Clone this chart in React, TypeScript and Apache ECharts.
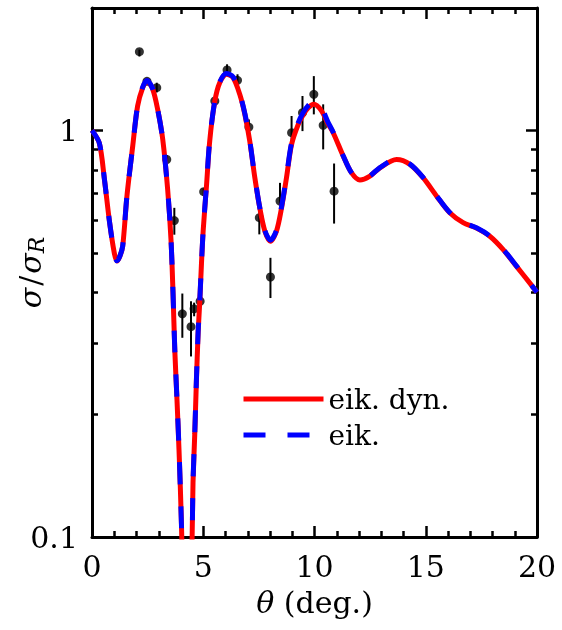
import React, { useEffect, useRef } from "react";
import * as echarts from "echarts";

// eikonal with dynamic polarization (red, solid)
const dynTheta = [0, 0.33, 0.56, 0.78, 1.0, 1.12, 1.25, 1.38, 1.57, 1.83, 2.05, 2.28, 2.47, 2.73, 2.95, 3.18, 3.4, 3.55, 3.64, 3.72, 3.82, 3.91, 4.02, 4.12, 4.25, 4.38, 4.5, 4.54, 4.62, 4.69, 4.77, 4.84, 4.92, 5.0, 5.14, 5.29, 5.52, 5.74, 6.04, 6.34, 6.64, 6.87, 7.09, 7.32, 7.54, 7.77, 8.02, 8.29, 8.52, 8.74, 8.97, 9.27, 9.5, 9.72, 9.97, 10.3, 10.6, 10.84, 11.29, 11.66, 12.04, 12.49, 12.94, 13.69, 14.29, 14.88, 15.49, 16.08, 16.68, 17.28, 17.88, 18.48, 19.08, 19.68, 20];
const dynValue = [1.0, 0.93, 0.757, 0.6, 0.5, 0.477, 0.49, 0.519, 0.689, 0.915, 1.148, 1.274, 1.323, 1.262, 1.127, 0.95, 0.716, 0.539, 0.4, 0.289, 0.217, 0.164, 0.108, 0.06, 0.02, 0.06, 0.1, 0.136, 0.18, 0.24, 0.318, 0.376, 0.47, 0.57, 0.723, 0.941, 1.18, 1.31, 1.374, 1.349, 1.227, 1.095, 0.941, 0.764, 0.645, 0.565, 0.534, 0.565, 0.645, 0.764, 0.924, 1.035, 1.095, 1.137, 1.159, 1.12, 1.04, 0.987, 0.865, 0.787, 0.755, 0.772, 0.809, 0.848, 0.825, 0.765, 0.689, 0.627, 0.593, 0.575, 0.549, 0.509, 0.463, 0.421, 0.4];

// eikonal (blue, dashed)
const eikTheta = [0, 0.33, 0.56, 0.78, 1.0, 1.12, 1.25, 1.38, 1.57, 1.83, 2.05, 2.28, 2.47, 2.73, 2.95, 3.18, 3.4, 3.55, 3.64, 3.72, 3.82, 3.91, 4.02, 4.12, 4.25, 4.38, 4.5, 4.54, 4.62, 4.69, 4.77, 4.84, 4.92, 5.0, 5.14, 5.29, 5.52, 5.74, 6.04, 6.34, 6.64, 6.87, 7.09, 7.32, 7.54, 7.77, 8.02, 8.29, 8.52, 8.74, 8.97, 9.27, 9.5, 9.72, 9.97, 10.3, 10.6, 10.84, 11.29, 11.66, 12.04, 12.49, 12.94, 13.69, 14.29, 14.88, 15.49, 16.08, 16.68, 17.28, 17.88, 18.48, 19.08, 19.68, 20];
const eikValue = [1.0, 0.93, 0.757, 0.6, 0.5, 0.478, 0.49, 0.52, 0.69, 0.915, 1.15, 1.278, 1.327, 1.265, 1.128, 0.95, 0.716, 0.54, 0.4, 0.29, 0.218, 0.165, 0.107, 0.06, 0.02, 0.06, 0.1, 0.137, 0.181, 0.241, 0.32, 0.378, 0.472, 0.572, 0.726, 0.945, 1.185, 1.315, 1.38, 1.354, 1.232, 1.1, 0.944, 0.766, 0.646, 0.567, 0.537, 0.568, 0.65, 0.77, 0.932, 1.045, 1.108, 1.152, 1.176, 1.138, 1.05, 0.99, 0.866, 0.787, 0.756, 0.773, 0.81, 0.85, 0.826, 0.766, 0.69, 0.628, 0.594, 0.576, 0.55, 0.51, 0.464, 0.421, 0.4];

// measured points with error bars
const obsTheta = [2.13, 2.47, 2.91, 3.36, 3.7, 4.06, 4.45, 4.59, 4.86, 5.02, 5.52, 6.07, 6.54, 7.05, 7.52, 8.02, 8.45, 8.97, 9.46, 9.97, 10.39, 10.88];
const obsValue = [1.562, 1.32, 1.274, 0.848, 0.6, 0.354, 0.329, 0.364, 0.38, 0.707, 1.181, 1.408, 1.328, 1.019, 0.61, 0.436, 0.67, 0.987, 1.105, 1.227, 1.029, 0.709];
const obsLow = [1.52, 1.3, 1.24, 0.83, 0.554, 0.309, 0.278, 0.349, 0.37, 0.69, 1.16, 1.36, 1.274, 0.978, 0.555, 0.387, 0.604, 0.889, 0.996, 1.095, 0.898, 0.59];
const obsHigh = [1.58, 1.34, 1.31, 0.87, 0.645, 0.397, 0.38, 0.377, 0.39, 0.72, 1.2, 1.454, 1.374, 1.064, 0.633, 0.486, 0.743, 1.085, 1.215, 1.36, 1.159, 0.829];

const yMajorLabels = [0.1, 1];
const yMinorTicks = [0.2, 0.3, 0.4, 0.5, 0.6, 0.7, 0.8, 0.9];
const xTickInterval = 5;

const FONT = "DejaVu Serif";

export default function App() {
  const ref = useRef<HTMLDivElement>(null);
  useEffect(() => {
    if (!ref.current) return;
    const chart = echarts.init(ref.current, null, { renderer: "svg" });
    const axisLine = { show: true, onZero: false, lineStyle: { color: "#000", width: 3 } };
    const tick = { show: true, inside: true, length: 11, lineStyle: { color: "#000", width: 2.5 } };
    const minor = { show: true, splitNumber: 5, length: 6, lineStyle: { color: "#000", width: 2.5 } };
    const logMinor = yMinorTicks.map((v) => Math.log10(v));
    const xBase = {
      type: "value",
      min: 0,
      max: 20,
      interval: xTickInterval,
      axisLine,
      axisTick: tick,
      minorTick: minor,
      splitLine: { show: false },
      minorSplitLine: { show: false },
    };
    const option = {
      animation: false,
      textStyle: { fontFamily: FONT },
      grid: { left: 92, right: 25, top: 8, bottom: 93, containLabel: false, outerBoundsMode: "none" },
      legend: {
        data: ["eik. dyn.", "eik."],
        orient: "vertical",
        left: 236,
        top: 380,
        itemWidth: 80,
        itemHeight: 14,
        itemGap: 8,
        itemStyle: { opacity: 0 },
        lineStyle: { width: 5 },
        textStyle: { fontFamily: FONT, fontSize: 28, color: "#000", padding: [0, 0, 0, 0] },
      },
      xAxis: [
        {
          ...xBase,
          position: "bottom",
          axisLabel: { fontFamily: FONT, fontSize: 30, color: "#000", margin: 14 },
          name: "{i|θ} (deg.)",
          nameLocation: "middle",
          nameGap: 50,
          nameMoveOverlap: false,
          nameTextStyle: {
            fontFamily: FONT,
            fontSize: 30,
            color: "#000",
            rich: { i: { fontFamily: FONT, fontSize: 30, fontStyle: "italic", color: "#000" } },
          },
        },
        { ...xBase, position: "top", axisLabel: { show: false } },
      ],
      yAxis: [
        {
          type: "log",
          logBase: 10,
          min: 0.1,
          max: 2,
          position: "left",
          axisLine,
          axisTick: tick,
          splitLine: { show: false },
          axisLabel: {
            fontFamily: FONT,
            fontSize: 30,
            color: "#000",
            margin: 14,
            showMaxLabel: false,
            formatter: (v: number) => (yMajorLabels.some((m) => Math.abs(m - v) < 1e-9) ? String(v) : ""),
          },
          name: "{i|σ}{n|/}{i|σ}{s|R}",
          nameLocation: "middle",
          nameGap: 45,
          nameMoveOverlap: false,
          nameTextStyle: {
            fontFamily: FONT,
            fontSize: 30,
            color: "#000",
            rich: {
              i: { fontFamily: FONT, fontSize: 30, fontStyle: "italic", color: "#000" },
              n: { fontFamily: FONT, fontSize: 30, color: "#000", padding: [0, 2, 0, 2] },
              s: { fontFamily: FONT, fontSize: 22, fontStyle: "italic", color: "#000", padding: [12, 0, 0, 0] },
            },
          },
        },
        {
          type: "log",
          logBase: 10,
          min: 0.1,
          max: 2,
          position: "right",
          axisLine,
          axisTick: tick,
          splitLine: { show: false },
          axisLabel: { show: false },
        },
        {
          type: "value",
          min: -1,
          max: Math.log10(2),
          position: "left",
          axisLine: { show: false, onZero: false },
          axisTick: { show: true, inside: true, length: 6, customValues: logMinor, lineStyle: { color: "#000", width: 2.5 } },
          axisLabel: { show: false },
          splitLine: { show: false },
        },
        {
          type: "value",
          min: -1,
          max: Math.log10(2),
          position: "right",
          axisLine: { show: false, onZero: false },
          axisTick: { show: true, inside: true, length: 6, customValues: logMinor, lineStyle: { color: "#000", width: 2.5 } },
          axisLabel: { show: false },
          splitLine: { show: false },
        },
      ],
      series: [
        {
          type: "custom",
          name: "err",
          xAxisIndex: 0,
          yAxisIndex: 0,
          data: obsTheta.map((t, i) => [t, obsLow[i], obsHigh[i]]),
          encode: { x: 0, y: [1, 2] },
          renderItem: (params: any, api: any) => {
            const p1 = api.coord([api.value(0), api.value(1)]);
            const p2 = api.coord([api.value(0), api.value(2)]);
            return {
              type: "line",
              shape: { x1: p1[0], y1: p1[1], x2: p2[0], y2: p2[1] },
              style: { stroke: "#000", lineWidth: 2 },
            };
          },
          z: 1,
        },
        {
          type: "scatter",
          name: "data",
          xAxisIndex: 0,
          yAxisIndex: 0,
          symbol: "circle",
          symbolSize: 9,
          itemStyle: { color: "#000" },
          data: obsTheta.map((t, i) => [t, obsValue[i]]),
          z: 2,
        },
        {
          type: "line",
          name: "eik. dyn.",
          xAxisIndex: 0,
          yAxisIndex: 0,
          showSymbol: false,
          symbol: "none",
          smooth: 0.3,
          clip: true,
          lineStyle: { color: "#ff0000", width: 5 },
          itemStyle: { color: "#ff0000" },
          data: dynTheta.map((t, i) => [t, dynValue[i]]),
          z: 3,
        },
        {
          type: "line",
          name: "eik.",
          xAxisIndex: 0,
          yAxisIndex: 0,
          showSymbol: false,
          symbol: "none",
          smooth: 0.3,
          clip: true,
          lineStyle: { color: "#0000ff", width: 5, type: [22, 22] },
          itemStyle: { color: "#0000ff" },
          data: eikTheta.map((t, i) => [t, eikValue[i]]),
          z: 4,
        },
      ],
    };
    chart.setOption(option as any);
    return () => chart.dispose();
  }, []);
  return <div ref={ref} style={{ position: "fixed", left: 0, top: 0, width: 562, height: 630 }} />;
}
